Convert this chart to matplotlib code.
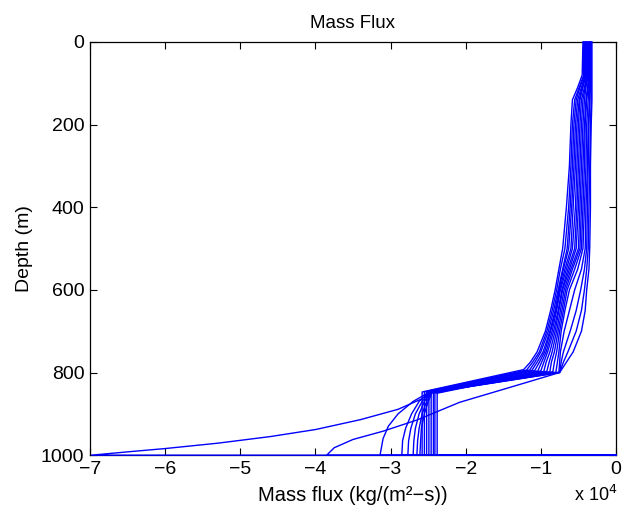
import matplotlib
matplotlib.use("Agg")
import matplotlib.pyplot as plt

plt.rcParams['font.family'] = ['Liberation Sans', 'DejaVu Sans']

# Mass flux profiles, x in units of 1e4 kg/(m^2 s); curve index 0 (right/early) .. 15 (left/late)
upper_depths = [0, 80, 110, 140, 200, 300, 400, 500, 550, 600, 650, 700, 750, 775]
x_d0   = [-0.32,-0.33,-0.34,-0.34,-0.35,-0.36,-0.36,-0.37,-0.38,-0.39,-0.40,-0.40,-0.41,-0.42,-0.43,-0.44]
x_d80  = [-0.32,-0.33,-0.34,-0.34,-0.35,-0.36,-0.36,-0.37,-0.38,-0.39,-0.40,-0.40,-0.41,-0.42,-0.43,-0.45]
x_d110 = [-0.32,-0.33,-0.34,-0.35,-0.36,-0.37,-0.38,-0.40,-0.41,-0.42,-0.44,-0.45,-0.46,-0.48,-0.49,-0.51]
x_d140 = [-0.32,-0.33,-0.35,-0.35,-0.37,-0.39,-0.40,-0.42,-0.44,-0.46,-0.48,-0.49,-0.51,-0.53,-0.55,-0.58]
x_d200 = [-0.33,-0.34,-0.36,-0.37,-0.39,-0.41,-0.42,-0.44,-0.46,-0.48,-0.50,-0.52,-0.54,-0.56,-0.58,-0.60]
x_d300 = [-0.34,-0.35,-0.37,-0.38,-0.40,-0.42,-0.44,-0.46,-0.48,-0.50,-0.52,-0.54,-0.56,-0.58,-0.60,-0.62]
x_d400 = [-0.34,-0.36,-0.38,-0.40,-0.42,-0.44,-0.46,-0.48,-0.50,-0.52,-0.54,-0.57,-0.59,-0.61,-0.63,-0.66]
x_d500 = [-0.35,-0.37,-0.39,-0.41,-0.44,-0.46,-0.48,-0.50,-0.53,-0.55,-0.58,-0.60,-0.63,-0.65,-0.68,-0.71]
x_d550 = [-0.36,-0.39,-0.42,-0.46,-0.51,-0.55,-0.58,-0.60,-0.62,-0.64,-0.66,-0.68,-0.70,-0.71,-0.74,-0.76]
x_d600 = [-0.39,-0.42,-0.47,-0.55,-0.62,-0.65,-0.67,-0.69,-0.71,-0.72,-0.74,-0.75,-0.76,-0.77,-0.79,-0.81]
x_d650 = [-0.41,-0.46,-0.53,-0.62,-0.68,-0.70,-0.72,-0.74,-0.76,-0.77,-0.79,-0.80,-0.81,-0.83,-0.85,-0.87]
x_d700 = [-0.46,-0.53,-0.61,-0.69,-0.73,-0.75,-0.77,-0.79,-0.81,-0.83,-0.85,-0.87,-0.88,-0.90,-0.92,-0.94]
x_d750 = [-0.57,-0.64,-0.70,-0.74,-0.76,-0.79,-0.82,-0.85,-0.88,-0.91,-0.93,-0.95,-0.97,-1.00,-1.02,-1.05]
x_d775 = [-0.66,-0.70,-0.73,-0.75,-0.78,-0.82,-0.86,-0.89,-0.93,-0.96,-0.99,-1.02,-1.05,-1.08,-1.11,-1.14]
upper_x = [x_d0, x_d80, x_d110, x_d140, x_d200, x_d300, x_d400, x_d500,
           x_d550, x_d600, x_d650, x_d700, x_d750, x_d775]

# corner near 800 m
corner_x = [-0.75,-0.75,-0.75,-0.76,-0.80,-0.84,-0.88,-0.92,-0.96,-1.00,-1.04,-1.08,-1.12,-1.15,-1.19,-1.23]
corner_d = [800, 800, 800, 799, 799, 798, 798, 797, 797, 796, 796, 795, 795, 794, 794, 793]

# knee near 850 m (curve 0 has none)
knee_x = [None,-2.47,-2.50,-2.49,-2.48,-2.47,-2.46,-2.45,-2.38,-2.41,-2.43,-2.46,-2.49,-2.52,-2.55,-2.58]
knee_d = [None, 849, 849, 849, 849, 849, 849, 849, 850, 850, 849, 849, 848, 848, 847, 847]

# lower branches below the knee (or corner for curve 0)
lower_x = {
    0: [-1.45, -2.08, -2.65, -3.10, -3.50, -3.75, -3.85],
    1: [-2.60, -2.90, -3.40, -4.00, -4.60, -5.30, -6.00, -6.50, -6.98],
    2: [-2.70, -2.90, -3.03, -3.10, -3.14],
    3: [-2.62, -2.72, -2.80, -2.84, -2.85],
    4: [-2.58, -2.67, -2.73, -2.76, -2.77],
    5: [-2.55, -2.62, -2.67, -2.69, -2.70],
    6: [-2.52, -2.58, -2.62, -2.64, -2.65],
    7: [-2.50, -2.55, -2.59, -2.60, -2.61],
}
lower_d = {
    0: [838, 872, 915, 942, 962, 982, 1000],
    1: [865, 889, 914, 938, 955, 971, 984, 992, 1000],
    2: [870, 900, 930, 960, 1000],
    3: [870, 900, 935, 965, 1000],
    4: [870, 900, 935, 965, 1000],
    5: [870, 900, 935, 965, 1000],
    6: [870, 900, 935, 965, 1000],
    7: [870, 900, 935, 965, 1000],
}
bottom_x = 0.0
bottom_d = 1000

x_ticks = [-7, -6, -5, -4, -3, -2, -1, 0]
y_ticks = [0, 200, 400, 600, 800, 1000]

fig = plt.figure(figsize=(6.25, 5.12), dpi=100)
ax = fig.add_axes([0.144, 0.111, 0.8416, 0.807])

n = len(corner_x)
for k in range(n):
    xs = [arr[k] for arr in upper_x]
    ds = list(upper_depths)
    xs.append(corner_x[k]); ds.append(corner_d[k])
    if knee_x[k] is not None:
        xs.append(knee_x[k]); ds.append(knee_d[k])
    if k in lower_x:
        xs += lower_x[k]; ds += lower_d[k]
    else:
        xs.append(knee_x[k]); ds.append(1000)
    xs.append(bottom_x); ds.append(bottom_d)
    ax.plot(xs, ds, color='#0000ff', lw=1.0, clip_on=False, zorder=3,
            solid_joinstyle='round')

ax.set_xlim(-7, 0)
ax.set_ylim(1000, 0)
ax.set_xticks(x_ticks)
ax.set_yticks(y_ticks)
ax.tick_params(direction='in', length=5, width=0.8, top=True, right=True,
               labelsize=14, pad=4)
for s in ax.spines.values():
    s.set_linewidth(0.9)
ax.set_title('Mass Flux', fontsize=13.5, pad=10)
ax.set_xlabel('Mass flux (kg/(m²−s))', fontsize=14.5, labelpad=6)
ax.set_ylabel('Depth (m)', fontsize=14, labelpad=6)
fig.text(0.953, 1 - 495/512, r'x 10$^{4}$', fontsize=13, ha='center', va='center')

fig.savefig('out.png', dpi=100)
